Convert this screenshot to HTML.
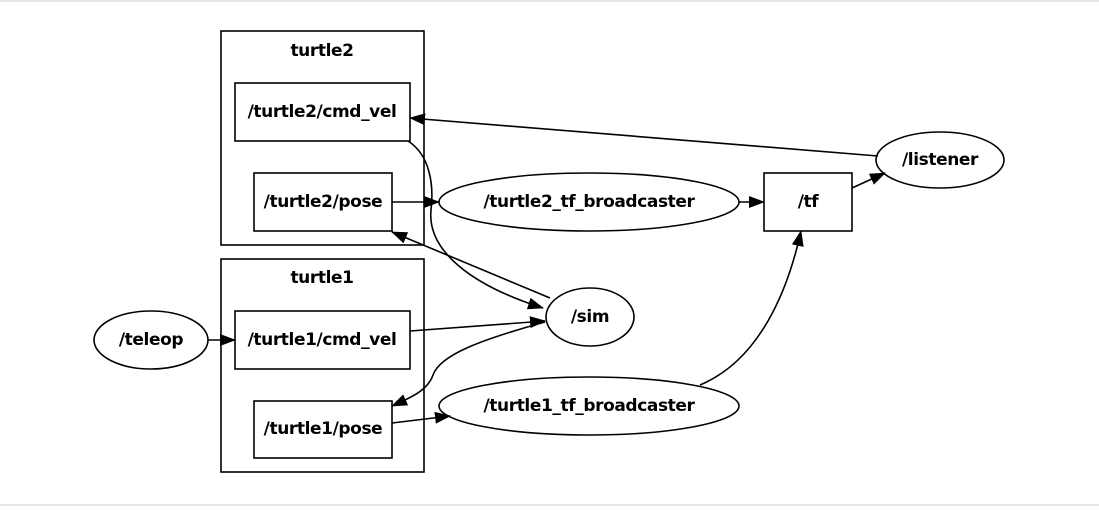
<!DOCTYPE html>
<html><head><meta charset="utf-8"><style>
html,body{margin:0;padding:0;background:#fff;}
svg text{font-family:"DejaVu Sans","Liberation Sans",sans-serif;font-weight:bold;font-size:17px;letter-spacing:-0.4px;text-anchor:middle;dominant-baseline:central;fill:#000;}
</style></head><body>
<svg width="1099" height="507" viewBox="0 0 1099 507" xmlns="http://www.w3.org/2000/svg">
<defs><marker id="a" markerWidth="16" markerHeight="12" refX="15" refY="6" orient="auto" markerUnits="userSpaceOnUse"><path d="M0,0 L16,6 L0,12 z" fill="#000"/></marker></defs>
<line x1="0" y1="1" x2="1099" y2="1" stroke="#ccc"/>
<line x1="0" y1="505" x2="1099" y2="505" stroke="#ccc"/>
<g fill="none" stroke="#000" stroke-width="1.6">
<rect x="221" y="31" width="203" height="214"/>
<rect x="221" y="259" width="203" height="213"/>
<rect x="235" y="83" width="175" height="58"/>
<rect x="254" y="173" width="138" height="58"/>
<rect x="235" y="311" width="175" height="58"/>
<rect x="254" y="401" width="138" height="57"/>
<rect x="764" y="173" width="88" height="58"/>
<ellipse cx="151" cy="340" rx="57" ry="29"/>
<ellipse cx="590" cy="317" rx="44" ry="29"/>
<ellipse cx="589" cy="202" rx="150" ry="29"/>
<ellipse cx="589" cy="406" rx="150" ry="29"/>
<ellipse cx="940" cy="160" rx="64" ry="28"/>
<g marker-end="url(#a)">
<path d="M208,340 L235,340"/>
<path d="M410,331 L545,321"/>
<path d="M550,298 L392,232"/>
<path d="M408,141 C430,155 434,185 431,210 C427,250 470,285 543,308"/>
<path d="M392,202 L439,202"/>
<path d="M545,322 C480,340 440,355 433,375 C428,390 412,397 392,406"/>
<path d="M392,423 L450,416"/>
<path d="M739,202 L764,202"/>
<path d="M700,385 C760,360 788,290 801,231"/>
<path d="M852,188 L885,173"/>
<path d="M878,156 L410,118"/>
</g>
</g>
<text x="322" y="51">turtle2</text>
<text x="322" y="278">turtle1</text>
<text x="322" y="112">/turtle2/cmd_vel</text>
<text x="323" y="202">/turtle2/pose</text>
<text x="322" y="340">/turtle1/cmd_vel</text>
<text x="323" y="429">/turtle1/pose</text>
<text x="151" y="340">/teleop</text>
<text x="590" y="317">/sim</text>
<text x="589" y="202">/turtle2_tf_broadcaster</text>
<text x="589" y="406">/turtle1_tf_broadcaster</text>
<text x="808" y="202">/tf</text>
<text x="940" y="160">/listener</text>
</svg>
</body></html>
